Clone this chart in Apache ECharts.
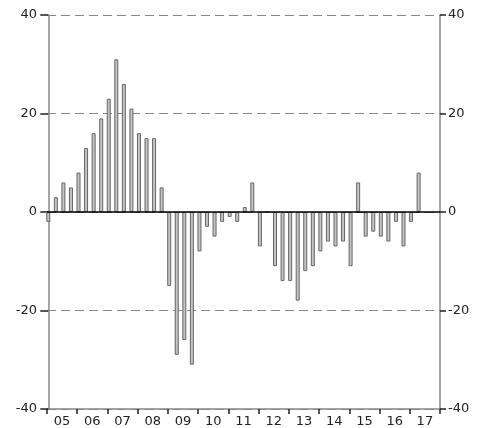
<!DOCTYPE html>
<html>
<head>
<meta charset="utf-8">
<script src="https://cdn.jsdelivr.net/npm/echarts@6/dist/echarts.min.js"></script>
<style>html,body{margin:0;padding:0;background:#fff}#c{width:481px;height:428px}</style>
</head>
<body>
<div id="c"></div>
<script>
// Year labels (quarterly data, 2005Q1 - 2017Q4)
var years = ['05','06','07','08','09','10','11','12','13','14','15','16','17'];
// Quarterly values, one array per year (Q1..Q4)
var y05 = [-2, 3, 6, 5];
var y06 = [8, 13, 16, 19];
var y07 = [23, 31, 26, 21];
var y08 = [16, 15, 15, 5];
var y09 = [-15, -29, -26, -31];
var y10 = [-8, -3, -5, -2];
var y11 = [-1, -2, 1, 6];
var y12 = [-7, 0, -11, -14];
var y13 = [-14, -18, -12, -11];
var y14 = [-8, -6, -7, -6];
var y15 = [-11, 6, -5, -4];
var y16 = [-5, -6, -2, -7];
var y17 = [-2, 8, null, null];
var yTicks = [-40, -20, 0, 20, 40];

var values = [].concat(y05,y06,y07,y08,y09,y10,y11,y12,y13,y14,y15,y16,y17);
var barData = values.map(function(v,i){ return [i, v]; });

var font = 'DejaVu Sans';
var chart = echarts.init(document.getElementById('c'), null, {renderer:'canvas'});
chart.setOption({
  animation: false,
  grid: {left: 47, right: 41, top: 15, bottom: 19},
  xAxis: [{
    type: 'category', data: years, boundaryGap: true, position: 'bottom',
    axisLine: {show: true, onZero: false, lineStyle: {color: '#888', width: 1.5}},
    axisTick: {show: true, length: 5, inside: false, lineStyle: {color: '#222', width: 1.5}},
    axisLabel: {color: '#222', fontFamily: font, fontSize: 13, margin: 6},
    splitLine: {show: false}
  }, {
    type: 'value', min: -0.17, max: 51.83, show: false
  }],
  yAxis: [{
    type: 'value', min: -40, max: 40, interval: 20, position: 'left',
    axisLine: {show: true, lineStyle: {color: '#888', width: 1.5}},
    axisTick: {show: true, length: 8, lineStyle: {color: '#222', width: 1.5}},
    axisLabel: {color: '#222', fontFamily: font, fontSize: 13, margin: 10},
    splitLine: {show: true, lineStyle: {color: '#888', type: [9, 5], width: 1.2}}
  }, {
    type: 'value', min: -40, max: 40, interval: 20, position: 'right',
    axisLine: {show: true, lineStyle: {color: '#888', width: 1.5}},
    axisTick: {show: true, length: 6, lineStyle: {color: '#222', width: 1.5}},
    axisLabel: {color: '#222', fontFamily: font, fontSize: 13, margin: 8},
    splitLine: {show: false}
  }],
  series: [{
    type: 'bar', xAxisIndex: 1, yAxisIndex: 0,
    data: barData, barWidth: 4,
    itemStyle: {color: '#c4c4c4', borderColor: '#666', borderWidth: 1},
    markLine: {
      silent: true, symbol: ['none','none'], label: {show: false},
      lineStyle: {color: '#000', type: 'solid', width: 1.5},
      data: [{yAxis: 0}]
    }
  }]
});
</script>
</body>
</html>
